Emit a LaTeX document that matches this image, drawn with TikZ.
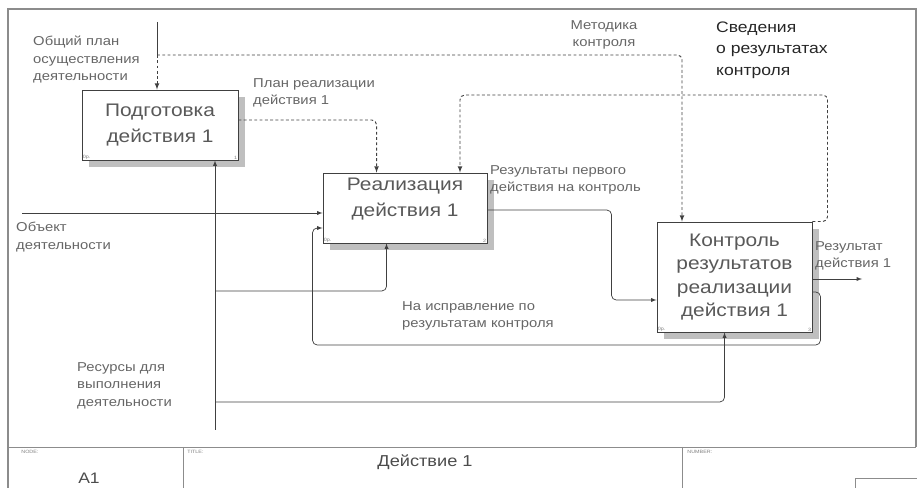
\documentclass[tikz,border=0pt]{standalone}
\usepackage{fontspec}
\setmainfont{Liberation Sans}[FakeStretch=1.15]
\usetikzlibrary{arrows,calc,positioning,backgrounds}

\begin{document}
\begin{tikzpicture}[x=0.03cm, y=-0.03cm, >=latex,
	box/.style={draw=black!75, rectangle, fill=white, line width=0.8pt, align=center,
		text=black!65, font=\fontsize{15.5}{22}\selectfont},
	shade/.style={fill=black!25},
	lbl/.style={anchor=north west, align=left, inner sep=0pt, text=black!60,
		font=\fontsize{11}{15}\selectfont},
	tag/.style={inner sep=1pt, text=black!50, font=\fontsize{4}{4}\selectfont},
	solidl/.style={draw=black!75, line width=0.6pt},
	ctrl/.style={draw=black!75, line width=0.8pt, dash pattern=on 2.5pt off 2pt},
	frame/.style={draw=black!45, line width=1.2pt}]
	
	\useasboundingbox (0,0) rectangle (917,488);
	
	% frame and title block
	\draw[frame] (8,488) -- (8,9) -- (916,9) -- (916,447);
	\draw[frame, line width=0.8pt] (8,447) -- (916,447);
	\draw[frame, line width=0.8pt] (183,447) -- (183,488);
	\draw[frame, line width=0.8pt] (682,447) -- (682,488);
	\draw[frame, line width=0.6pt] (855,488) -- (855,478) -- (917,478);
	\node[tag, anchor=north west] (t1) at (20,449) {NODE:};
	\node[tag, anchor=north west] (t2) at (186,449) {TITLE:};
	\node[tag, anchor=north west] (t3) at (686,449) {NUMBER:};
	\node[text=black!70, font=\fontsize{13}{13}\selectfont] (t4) at (89,478) {A1};
	\node[text=black!70, font=\fontsize{13.5}{13}\selectfont] (t5) at (425,462) {Действие 1};
	
	% activities
	\node[box, minimum width=4.68cm, minimum height=2.1cm] (v1) at (160,125) {Подготовка\\действия 1};
	\node[box, minimum width=4.92cm, minimum height=2.1cm] (v2) at (405,208) {Реализация\\действия 1\\[-3pt]};
	\node[box, minimum width=4.65cm, minimum height=3.3cm, font=\fontsize{15.5}{20}\selectfont] (v3) at (734.5,277) {Контроль\\результатов\\реализации\\действия 1};
	
	\begin{scope}[on background layer]
		\fill[shade] ($(v1.north west)+(7,7)$) rectangle ($(v1.south east)+(7,7)$);
		\fill[shade] ($(v2.north west)+(7,7)$) rectangle ($(v2.south east)+(7,7)$);
		\fill[shade] ($(v3.north west)+(7,7)$) rectangle ($(v3.south east)+(7,7)$);
	\end{scope}
	
	\node[tag, anchor=south west] at (v1.south west) {0р.};
	\node[tag, anchor=south east] at (v1.south east) {1};
	\node[tag, anchor=south west] at (v2.south west) {0р.};
	\node[tag, anchor=south east] at (v2.south east) {2};
	\node[tag, anchor=south west] at (v3.south west) {0р.};
	\node[tag, anchor=south east] at (v3.south east) {3};
	
	\coordinate (in1) at (157,22);
	\coordinate (in2) at (22,213);
	\coordinate (in3) at (215,430);
	\coordinate (out1) at (862,279);
	\coordinate (k1) at (682,0);
	\coordinate (k2) at (460,95);
	\coordinate (m1) at (215,291);
	\coordinate (m2) at (215,402);
	
	% controls
	\draw[solidl] (in1) -- ++(0,33) coordinate (j1);
	\draw[ctrl, ->] (j1) -- (j1 |- v1.north);
	\draw[ctrl, ->, rounded corners=4] (j1) -| (k1 |- v3.north);
	\draw[ctrl, ->, rounded corners=4] ($(v1.east)+(0,-5)$) -| ($(v2.north west)+(54,0)$);
	\draw[ctrl, ->, rounded corners=4] (v3.north east) -- ++(15,0) |- (k2) -- (k2 |- v2.north);
	
	% inputs / outputs
	\draw[solidl, ->] (in2) -- (in2 -| v2.west);
	\draw[solidl, ->, rounded corners=4] ($(v2.east)+(0,2)$) -| ($(v3.west)+(-45,23)$) -- ($(v3.west)+(0,23)$);
	\draw[solidl, ->, rounded corners=4] ($(v3.east)+(0,15)$) -- ++(8,0) -- ++(0,53) -| ($(v2.west)+(-10,20)$) -- ($(v2.west)+(0,20)$);
	\draw[solidl, ->] (v3.east |- out1) -- (out1);
	
	% mechanisms
	\draw[solidl, ->] (in3) -- (in3 |- v1.south);
	\draw[solidl, ->, rounded corners=4] (m1) -| ($(v2.south west)+(64,0)$);
	\draw[solidl, ->, rounded corners=4] (m2) -| ($(v3.south west)+(68,0)$);
	
	% labels
	\node[lbl] (l1) at (33,36) {Общий план\\осуществления\\деятельности};
	\node[lbl] (l2) at (253,78) {План реализации\\действия 1};
	\node[lbl, anchor=north, align=center] (l3) at (604,20) {Методика\\контроля};
	\node[lbl, text=black!85, font=\fontsize{13}{18}\selectfont] (l4) at (716,22) {Сведения\\о результатах\\контроля};
	\node[lbl] (l5) at (490,165) {Результаты первого\\действия на контроль};
	\node[lbl] (l6) at (16,222) {Объект\\деятельности};
	\node[lbl] (l7) at (402,301) {На исправление по\\результатам контроля};
	\node[lbl] (l8) at (815,241) {Результат\\действия 1};
	\node[lbl] (l9) at (77,362) {Ресурсы для\\выполнения\\деятельности};
	
\end{tikzpicture}
\end{document}
